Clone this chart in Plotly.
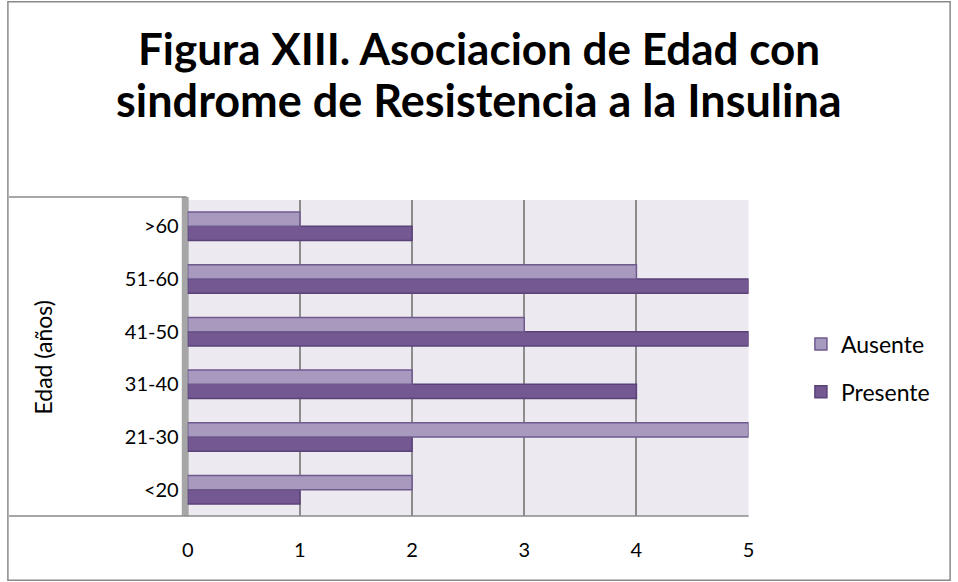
import plotly.graph_objects as go

categories = ["<20", "21-30", "31-40", "41-50", "51-60", ">60"]
ausente = [2, 5, 2, 3, 4, 1]
presente = [1, 2, 4, 5, 5, 2]
x_ticks = [0, 1, 2, 3, 4, 5]

W, H = 958, 582
x0_px, x5_px = 184, 752
y_top_px, y_bot_px = 200, 516

fig = go.Figure()
fig.add_trace(go.Bar(
    y=categories, x=presente, name="Presente", orientation="h",
    marker=dict(color="#735891", line=dict(color="#5A4279", width=1.5)),
    legendrank=2, legendgroup="p",
))
fig.add_trace(go.Bar(
    y=categories, x=ausente, name="Ausente", orientation="h",
    marker=dict(color="#A899BE", line=dict(color="#6F5A8E", width=1.5)),
    legendrank=1, legendgroup="a",
))

font_family = "Lato, Carlito, 'Open Sans', sans-serif"

fig.update_layout(
    width=W, height=H,
    margin=dict(l=0, r=0, t=0, b=0),
    paper_bgcolor="white",
    plot_bgcolor="#ECE9F1",
    barmode="group",
    bargap=0.46,
    bargroupgap=0.0,
    font=dict(family=font_family, size=20, color="black"),
    annotations=[
        dict(text="<b>Figura XIII. Asociacion de Edad con</b>", xref="paper", yref="paper",
             x=0.5, y=1 - 48 / H, xanchor="center", yanchor="middle", showarrow=False,
             font=dict(family=font_family, size=44, color="black")),
        dict(text="<b>sindrome de Resistencia a la Insulina</b>", xref="paper", yref="paper",
             x=0.5, y=1 - 100 / H, xanchor="center", yanchor="middle", showarrow=False,
             font=dict(family=font_family, size=45, color="black")),
        dict(text="Edad (años)", xref="paper", yref="paper", textangle=-90,
             x=37 / W, y=1 - 358 / H, xanchor="center", yanchor="middle", showarrow=False,
             font=dict(family=font_family, size=23, color="black")),
    ],
    xaxis=dict(
        domain=[x0_px / W, x5_px / W],
        range=[0, 5.0],
        tickvals=x_ticks,
        ticktext=[str(v) for v in x_ticks],
        showgrid=True, gridcolor="#8C8C8C", gridwidth=1.5,
        zeroline=False, showline=False,
        ticks="", ticklabelstandoff=20,
        tickfont=dict(size=20),
    ),
    yaxis=dict(
        domain=[1 - y_bot_px / H, 1 - y_top_px / H],
        categoryorder="array", categoryarray=categories,
        showgrid=False, zeroline=False, showline=False,
        ticks="", ticklabelstandoff=8,
        tickfont=dict(size=20),
    ),
    legend=dict(
        x=805 / W, y=1 - 368 / H, xanchor="left", yanchor="middle",
        font=dict(size=23), bgcolor="rgba(0,0,0,0)",
        itemwidth=30, tracegroupgap=15,
    ),
    shapes=[
        dict(type="rect", xref="paper", yref="paper", x0=0.002, x1=0.998, y0=0.003, y1=0.997,
             line=dict(color="#8A8A8A", width=1.5), fillcolor="rgba(0,0,0,0)", layer="below"),
        dict(type="rect", xref="paper", yref="paper", x0=178 / W, x1=185 / W,
             y0=1 - 516 / H, y1=1 - 197 / H, line=dict(width=0), fillcolor="#A6A6A6", layer="below"),
        dict(type="line", xref="paper", yref="paper", x0=3 / W, x1=183 / W,
             y0=1 - 197 / H, y1=1 - 197 / H, line=dict(color="#8A8A8A", width=1.5)),
        dict(type="line", xref="paper", yref="paper", x0=3 / W, x1=180 / W,
             y0=1 - 516 / H, y1=1 - 516 / H, line=dict(color="#8A8A8A", width=1.5)),
        dict(type="line", xref="paper", yref="paper", x0=180 / W, x1=752 / W,
             y0=1 - 516 / H, y1=1 - 516 / H, line=dict(color="#8A8A8A", width=1.5)),
    ],
)

fig.write_html(
    "out.html",
    config={"displayModeBar": False},
    post_script="document.body.style.margin='0';document.body.style.overflow='hidden';",
)
